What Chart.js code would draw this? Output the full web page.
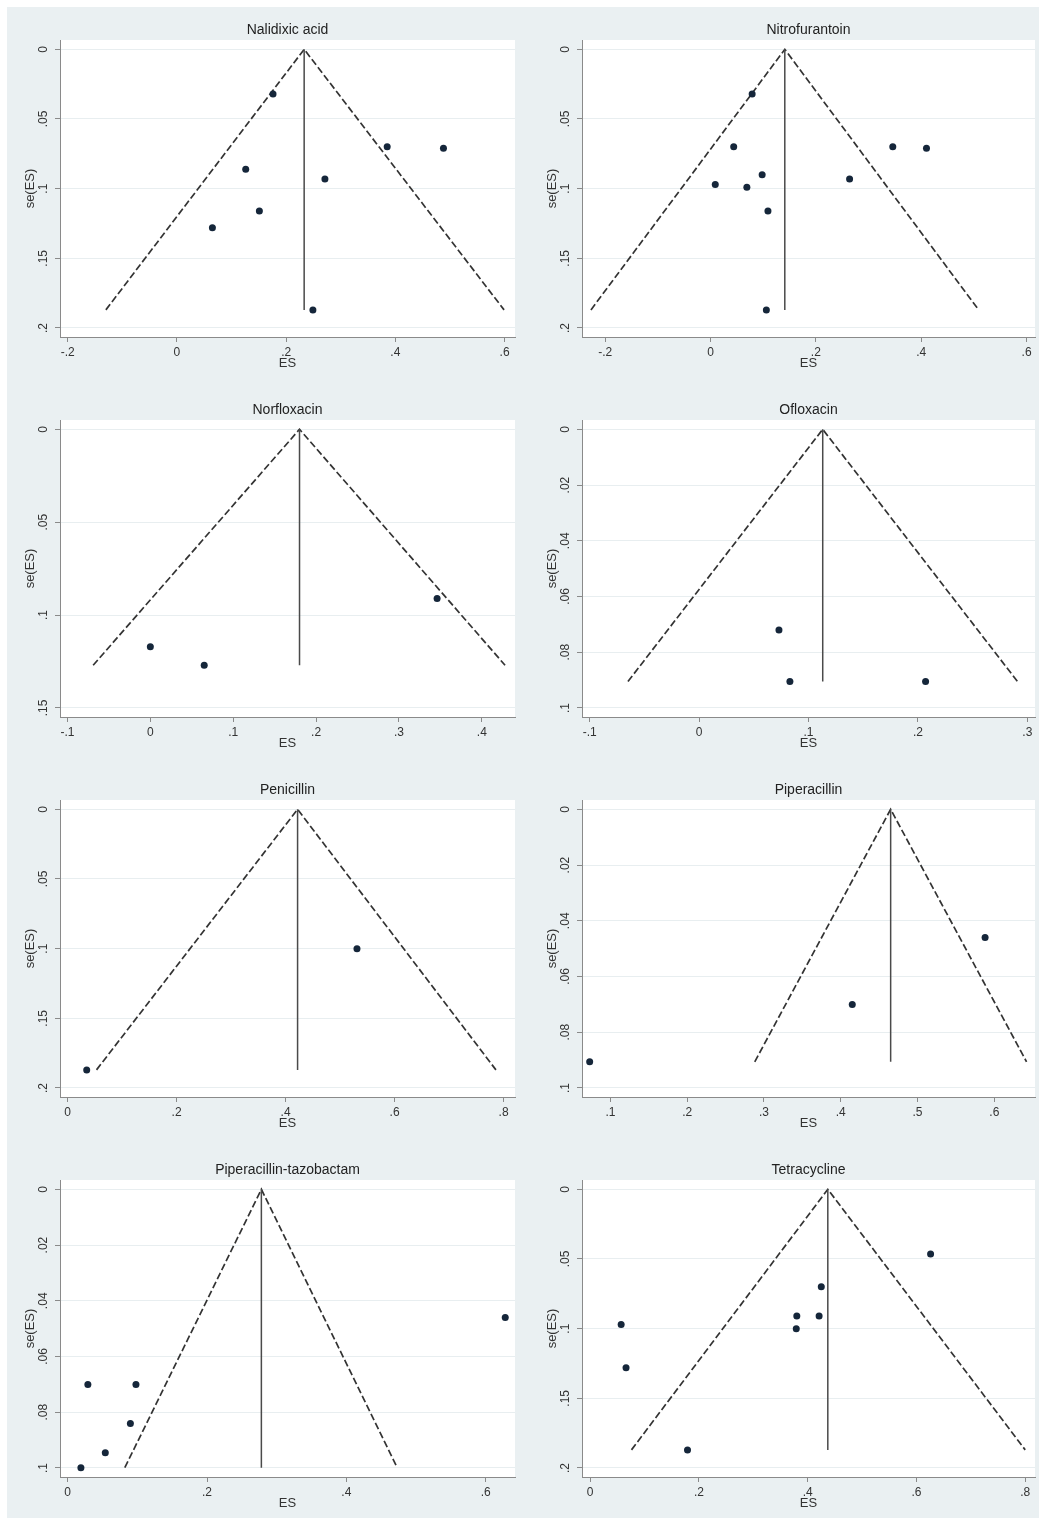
<!DOCTYPE html>
<html>
<head>
<meta charset="utf-8">
<script src="https://cdn.jsdelivr.net/npm/chart.js@4.4.1/dist/chart.umd.min.js"></script>
<style>
  html, body { margin: 0; padding: 0; background: #fff; }
  #page { position: relative; width: 1039px; height: 1523px; overflow: hidden; }
  #bg { position: absolute; left: 7px; top: 7px; width: 1032px; height: 1511px; background: #eaf0f2; }
  .panel { position: absolute; height: 380px; }
</style>
</head>
<body>
<div id="page"><div id="bg"></div></div>
<script>
// judul tiap panel
const titles = ['Nalidixic acid', 'Nitrofurantoin', 'Norfloxacin', 'Ofloxacin',
    'Penicillin', 'Piperacillin', 'Piperacillin-tazobactam', 'Tetracycline'];

// nilai ES dan se(ES) yang dibaca dari gambar
const nalidixicES = [0.176, 0.385, 0.488, 0.126, 0.271, 0.151, 0.065, 0.249];
const nalidixicSE = [0.032, 0.070, 0.071, 0.086, 0.093, 0.116, 0.128, 0.187];
const nitroES = [0.079, 0.044, 0.346, 0.410, 0.098, 0.009, 0.264, 0.069, 0.109, 0.106];
const nitroSE = [0.032, 0.070, 0.070, 0.071, 0.090, 0.097, 0.093, 0.099, 0.116, 0.187];
const norfloES = [0.346, 0.000, 0.065];
const norfloSE = [0.091, 0.117, 0.127];
const ofloES = [0.073, 0.083, 0.207];
const ofloSE = [0.072, 0.0905, 0.0905];
const peniES = [0.531, 0.035];
const peniSE = [0.100, 0.187];
const piperES = [0.588, 0.415, 0.073];
const piperSE = [0.046, 0.070, 0.0906];
const piptazES = [0.628, 0.029, 0.098, 0.090, 0.054, 0.019];
const piptazSE = [0.046, 0.070, 0.070, 0.084, 0.0945, 0.0999];
const tetraES = [0.626, 0.425, 0.380, 0.421, 0.379, 0.057, 0.066, 0.179];
const tetraSE = [0.0465, 0.070, 0.091, 0.091, 0.100, 0.097, 0.128, 0.187];

const esList = [nalidixicES, nitroES, norfloES, ofloES, peniES, piperES, piptazES, tetraES];
const seList = [nalidixicSE, nitroSE, norfloSE, ofloSE, peniSE, piperSE, piptazSE, tetraSE];

// garis funnel: estimasi gabungan, ujung kiri/kanan, dan se terbawah
const pooledES = [0.233, 0.141, 0.180, 0.113, 0.422, 0.465, 0.278, 0.437];
const funnelLeft = [-0.130, -0.227, -0.069, -0.065, 0.053, 0.288, 0.082, 0.076];
const funnelRight = [0.599, 0.509, 0.428, 0.291, 0.786, 0.642, 0.473, 0.800];
const funnelBottom = [0.187, 0.187, 0.127, 0.0905, 0.187, 0.0906, 0.0999, 0.187];

// label sumbu (gaya Stata)
const xTickLabels = [
    ['-.2', '0', '.2', '.4', '.6'],
    ['-.2', '0', '.2', '.4', '.6'],
    ['-.1', '0', '.1', '.2', '.3', '.4'],
    ['-.1', '0', '.1', '.2', '.3'],
    ['0', '.2', '.4', '.6', '.8'],
    ['.1', '.2', '.3', '.4', '.5', '.6'],
    ['0', '.2', '.4', '.6'],
    ['0', '.2', '.4', '.6', '.8']
];
const yTickLabels = [
    ['0', '.05', '.1', '.15', '.2'],
    ['0', '.05', '.1', '.15', '.2'],
    ['0', '.05', '.1', '.15'],
    ['0', '.02', '.04', '.06', '.08', '.1'],
    ['0', '.05', '.1', '.15', '.2'],
    ['0', '.02', '.04', '.06', '.08', '.1'],
    ['0', '.02', '.04', '.06', '.08', '.1'],
    ['0', '.05', '.1', '.15', '.2']
];
// rentang sumbu x tiap panel
const xMin = [-0.214, -0.244, -0.109, -0.107, -0.014, 0.063, -0.011, -0.015];
const xMax = [0.619, 0.616, 0.440, 0.307, 0.821, 0.653, 0.642, 0.818];

Chart.defaults.font.family = '"Liberation Sans", Arial, sans-serif';
Chart.defaults.color = '#333';

const AXIS = '#8a8a8a';
const GRID = '#e8eef0';

// latar putih area plot
const plotBg = {
    id: 'plotBg',
    beforeDraw(chart) {
        const { ctx, chartArea: a } = chart;
        ctx.save();
        ctx.fillStyle = '#fff';
        ctx.fillRect(a.left, a.top, a.right - a.left, a.bottom - a.top);
        ctx.restore();
    }
};

// label sumbu y diputar seperti Stata
const yLabels = {
    id: 'yLabels',
    afterDraw(chart, args, opts) {
        const s = chart.scales.y, ctx = chart.ctx;
        ctx.save();
        ctx.font = '12px "Liberation Sans", Arial, sans-serif';
        ctx.fillStyle = '#333';
        ctx.textAlign = 'center';
        ctx.textBaseline = 'middle';
        s.ticks.forEach((t, i) => {
            ctx.save();
            ctx.translate(chart.chartArea.left - 16, s.getPixelForValue(t.value));
            ctx.rotate(-Math.PI / 2);
            ctx.fillText(opts.labels[i], 0, 0);
            ctx.restore();
        });
        ctx.restore();
    }
};

const page = document.getElementById('page');

titles.forEach((title, k) => {
    const col = k % 2, row = Math.floor(k / 2);
    const box = document.createElement('div');
    box.className = 'panel';
    box.style.left = (col ? 519 : 0) + 'px';
    box.style.top = (row * 380) + 'px';
    box.style.width = (col ? 520 : 519) + 'px';
    const cv = document.createElement('canvas');
    box.appendChild(cv);
    page.appendChild(box);

    const xVals = xTickLabels[k].map(Number);
    const yVals = yTickLabels[k].map(Number);
    const yTop = yVals[yVals.length - 1];

    new Chart(cv, {
        type: 'scatter',
        data: {
            datasets: [
                {
                    data: esList[k].map((x, i) => ({ x, y: seList[k][i] })),
                    backgroundColor: '#15263a',
                    borderColor: '#15263a',
                    borderWidth: 0,
                    pointRadius: 3.5
                },
                {
                    data: [{ x: pooledES[k], y: 0 }, { x: pooledES[k], y: funnelBottom[k] }],
                    showLine: true,
                    borderColor: '#4a4a4a',
                    borderWidth: 1.5,
                    pointRadius: 0
                },
                {
                    data: [
                        { x: funnelLeft[k], y: funnelBottom[k] },
                        { x: pooledES[k], y: 0 },
                        { x: funnelRight[k], y: funnelBottom[k] }
                    ],
                    showLine: true,
                    borderColor: '#333',
                    borderWidth: 1.7,
                    borderDash: [7, 3],
                    pointRadius: 0
                }
            ]
        },
        options: {
            responsive: true,
            maintainAspectRatio: false,
            animation: false,
            layout: { padding: { left: col ? 3 : 0, right: col ? 0 : 1, top: 0, bottom: 0 } },
            scales: {
                x: {
                    type: 'linear',
                    min: xMin[k],
                    max: xMax[k],
                    afterBuildTicks: s => { s.ticks = xVals.map(v => ({ value: v })); },
                    afterFit: s => { s.height = 43; s.paddingLeft = 0; s.paddingRight = 0; },
                    ticks: {
                        callback: (v, i) => xTickLabels[k][i],
                        font: { size: 12 },
                        color: '#333',
                        padding: 3,
                        maxRotation: 0,
                        autoSkip: false
                    },
                    grid: { drawOnChartArea: false, drawTicks: true, tickLength: 5, tickColor: AXIS },
                    border: { color: AXIS, width: 1 },
                    title: { display: true, text: 'ES', font: { size: 13 }, color: '#333', padding: { top: 0, bottom: 9 } }
                },
                y: {
                    type: 'linear',
                    reverse: true,
                    min: -yTop * 0.0334,
                    max: yTop * 1.0323,
                    afterBuildTicks: s => { s.ticks = yVals.map(v => ({ value: v })); },
                    afterFit: s => { s.width = 60; s.paddingTop = 0; s.paddingBottom = 0; },
                    ticks: { display: false },
                    grid: { color: GRID, lineWidth: 1, drawTicks: true, tickLength: 5, tickColor: AXIS },
                    border: { color: AXIS, width: 1 },
                    title: { display: true, text: 'se(ES)', font: { size: 13 }, color: '#333', padding: { top: 23, bottom: 0 } }
                }
            },
            plugins: {
                legend: { display: false },
                tooltip: { enabled: false },
                title: {
                    display: true,
                    text: title,
                    fullSize: false,
                    color: '#222',
                    font: { size: 14, weight: 'normal' },
                    padding: { top: 21.6, bottom: 1.6 }
                },
                yLabels: { labels: yTickLabels[k] }
            }
        },
        plugins: [plotBg, yLabels]
    });
});
</script>
</body>
</html>
